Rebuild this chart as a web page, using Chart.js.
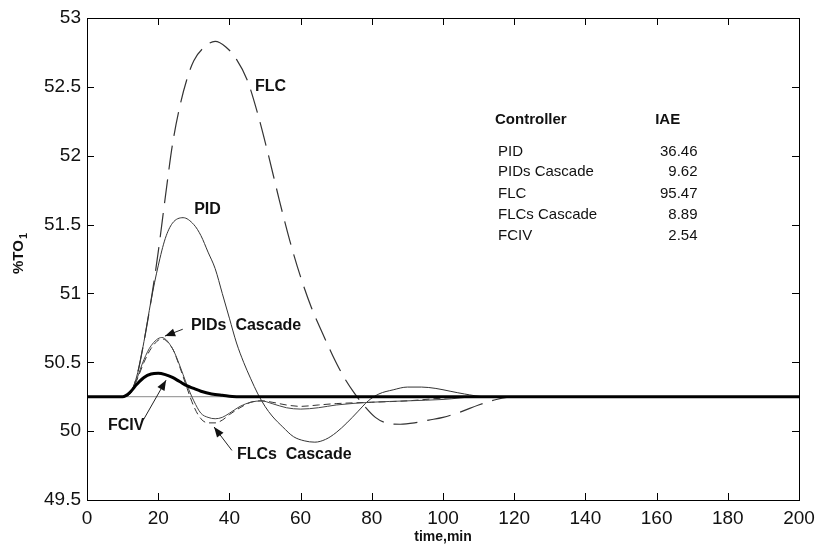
<!DOCTYPE html>
<html lang="en">
<head>
    <meta charset="UTF-8">
    <title>%TO1 response</title>
    <script src="https://cdn.jsdelivr.net/npm/chart.js"></script>
    <style>
        body { margin: 0; background: #fff; }
        #wrap { width: 819px; height: 546px; }
    </style>
</head>
<body>
    <div id="wrap"><canvas id="c" width="819" height="546"></canvas></div>
    <script>
        // time (min) and %TO1 for each controller
        const flcT = [0, 10, 12, 14, 16, 18, 20, 22, 24, 26, 28, 30, 33, 36, 39, 42, 45, 48, 51, 54, 57, 60, 63, 66, 69, 72, 75, 78, 81, 84, 88, 92, 96, 100, 105, 110, 115, 120, 200];
        const flcY = [50.25, 50.25, 50.27, 50.4, 50.65, 50.95, 51.3, 51.7, 52.08, 52.35, 52.55, 52.69, 52.79, 52.83, 52.79, 52.7, 52.55, 52.3, 52.0, 51.68, 51.38, 51.12, 50.9, 50.72, 50.55, 50.4, 50.28, 50.18, 50.1, 50.06, 50.05, 50.06, 50.08, 50.1, 50.14, 50.19, 50.23, 50.25, 50.25];

        const pidT = [0, 10, 12, 14, 16, 18, 20, 22, 24, 27, 30, 32, 34, 36, 38, 40, 42, 44, 46, 48, 50, 52, 55, 58, 61, 64, 67, 70, 73, 76, 79, 82, 86, 90, 94, 98, 102, 106, 112, 200];
        const pidY = [50.25, 50.25, 50.27, 50.4, 50.65, 50.95, 51.2, 51.4, 51.51, 51.55, 51.5, 51.42, 51.3, 51.18, 51.0, 50.82, 50.64, 50.5, 50.38, 50.27, 50.18, 50.11, 50.03, 49.96, 49.93, 49.92, 49.94, 49.99, 50.06, 50.14, 50.22, 50.27, 50.3, 50.32, 50.32, 50.31, 50.29, 50.27, 50.25, 50.25];

        const pidCasT = [0, 10, 12, 14, 16, 18, 21, 24, 26, 28, 30, 32, 34, 36, 38, 40, 43, 46, 49, 52, 56, 60, 65, 70, 80, 90, 100, 110, 200];
        const pidCasY = [50.25, 50.25, 50.27, 50.38, 50.52, 50.62, 50.68, 50.6, 50.48, 50.34, 50.22, 50.13, 50.1, 50.09, 50.1, 50.13, 50.18, 50.21, 50.22, 50.2, 50.17, 50.16, 50.17, 50.19, 50.21, 50.22, 50.23, 50.25, 50.25];

        const flcCasT = [0, 10, 12, 14, 16, 18, 21, 24, 26, 28, 30, 32, 34, 36, 38, 40, 43, 46, 49, 52, 56, 60, 65, 70, 80, 90, 100, 110, 200];
        const flcCasY = [50.25, 50.25, 50.27, 50.37, 50.5, 50.6, 50.67, 50.6, 50.47, 50.32, 50.18, 50.09, 50.06, 50.06, 50.08, 50.12, 50.17, 50.21, 50.22, 50.21, 50.19, 50.18, 50.19, 50.2, 50.21, 50.22, 50.24, 50.25, 50.25];

        const fcivT = [0, 10, 12, 14, 16, 18, 20, 22, 24, 26, 28, 30, 32, 35, 38, 42, 200];
        const fcivY = [50.25, 50.25, 50.28, 50.34, 50.39, 50.415, 50.42, 50.41, 50.39, 50.36, 50.33, 50.31, 50.29, 50.27, 50.26, 50.25, 50.25];

        const setT = [0, 200];
        const setY = [50.25, 50.25];

        const xTicks = [0, 20, 40, 60, 80, 100, 120, 140, 160, 180, 200];
        const yTicks = [49.5, 50, 50.5, 51, 51.5, 52, 52.5, 53];

        // IAE table
        const controllers = ['PID', 'PIDs Cascade', 'FLC', 'FLCs Cascade', 'FCIV'];
        const iae = ['36.46', '9.62', '95.47', '8.89', '2.54'];

        const FONT = "'Liberation Sans', Arial, sans-serif";

        function pts(t, y) {
            return t.map((v, i) => ({ x: v, y: y[i] }));
        }

        // labels and arrows, placed in data coordinates
        const labels = [
            { text: 'FLC', x: 47.2, y: 52.5 },
            { text: 'PID', x: 30.1, y: 51.61 },
            { text: 'PIDs  Cascade', x: 29.2, y: 50.77 },
            { text: 'FCIV', x: 5.9, y: 50.04 },
            { text: 'FLCs  Cascade', x: 42.1, y: 49.83 }
        ];
        const arrows = [
            { from: [26.9, 50.74], to: [21.9, 50.69] },
            { from: [15.8, 50.08], to: [22.2, 50.37] },
            { from: [40.7, 49.86], to: [35.7, 50.03] }
        ];

        const decorations = {
            id: 'decorations',
            afterDraw(chart) {
                const c = chart.ctx;
                const xs = chart.scales.x, ys = chart.scales.y;
                const a = chart.chartArea;
                c.save();
                // box
                c.strokeStyle = '#000';
                c.lineWidth = 1;
                c.strokeRect(a.left + 0.5, a.top + 0.5, a.right - a.left, a.bottom - a.top);
                // inward ticks on all four sides
                c.beginPath();
                xTicks.forEach(v => {
                    const px = Math.round(xs.getPixelForValue(v)) + 0.5;
                    c.moveTo(px, a.bottom); c.lineTo(px, a.bottom - 7);
                    c.moveTo(px, a.top); c.lineTo(px, a.top + 7);
                });
                yTicks.forEach(v => {
                    const py = Math.round(ys.getPixelForValue(v)) + 0.5;
                    c.moveTo(a.left, py); c.lineTo(a.left + 7, py);
                    c.moveTo(a.right, py); c.lineTo(a.right - 7, py);
                });
                c.stroke();

                // curve labels
                c.fillStyle = '#111';
                c.font = 'bold 16px ' + FONT;
                c.textBaseline = 'middle';
                c.textAlign = 'left';
                labels.forEach(l => {
                    c.fillText(l.text, xs.getPixelForValue(l.x), ys.getPixelForValue(l.y));
                });

                // arrows
                c.strokeStyle = '#222';
                c.lineWidth = 1;
                arrows.forEach(ar => {
                    const x1 = xs.getPixelForValue(ar.from[0]), y1 = ys.getPixelForValue(ar.from[1]);
                    const x2 = xs.getPixelForValue(ar.to[0]), y2 = ys.getPixelForValue(ar.to[1]);
                    const ang = Math.atan2(y2 - y1, x2 - x1);
                    c.beginPath();
                    c.moveTo(x1, y1); c.lineTo(x2, y2);
                    c.stroke();
                    c.beginPath();
                    c.moveTo(x2, y2);
                    c.lineTo(x2 - 11 * Math.cos(ang - 0.38), y2 - 11 * Math.sin(ang - 0.38));
                    c.lineTo(x2 - 11 * Math.cos(ang + 0.38), y2 - 11 * Math.sin(ang + 0.38));
                    c.closePath();
                    c.fillStyle = '#111';
                    c.fill();
                });

                // IAE table
                const tx = xs.getPixelForValue(114.6);
                const vx = xs.getPixelForValue(171.5);
                c.fillStyle = '#111';
                c.font = 'bold 15px ' + FONT;
                c.fillText('Controller', tx, ys.getPixelForValue(52.26));
                c.fillText('IAE', xs.getPixelForValue(159.6), ys.getPixelForValue(52.26));
                c.font = '15px ' + FONT;
                const rowY = [52.03, 51.88, 51.72, 51.57, 51.42];
                controllers.forEach((name, i) => {
                    c.textAlign = 'left';
                    c.fillText(name, tx + 3, ys.getPixelForValue(rowY[i]));
                    c.textAlign = 'right';
                    c.fillText(iae[i], vx, ys.getPixelForValue(rowY[i]));
                });

                // y axis title with subscript
                c.save();
                c.translate(19, (a.top + a.bottom) / 2 + 15);
                c.rotate(-Math.PI / 2);
                c.textAlign = 'left';
                c.font = 'bold 15px ' + FONT;
                c.fillText('%TO', 0, 0);
                const w = c.measureText('%TO').width;
                c.font = 'bold 11px ' + FONT;
                c.fillText('1', w + 1, 5);
                c.restore();

                c.restore();
            }
        };

        const ctx = document.getElementById('c').getContext('2d');
        new Chart(ctx, {
            type: 'line',
            data: {
                datasets: [
                    { label: 'Setpoint', data: pts(setT, setY), borderColor: '#8a8a8a', borderWidth: 1, order: 6 },
                    { label: 'FLC', data: pts(flcT, flcY), borderColor: '#333', borderWidth: 1.2, borderDash: [24, 10], order: 5 },
                    { label: 'PID', data: pts(pidT, pidY), borderColor: '#333', borderWidth: 1, order: 4 },
                    { label: 'FLCs Cascade', data: pts(flcCasT, flcCasY), borderColor: '#333', borderWidth: 1, borderDash: [7, 4], order: 3 },
                    { label: 'PIDs Cascade', data: pts(pidCasT, pidCasY), borderColor: '#444', borderWidth: 1, order: 2 },
                    { label: 'FCIV', data: pts(fcivT, fcivY), borderColor: '#000', borderWidth: 3, order: 1 }
                ]
            },
            options: {
                responsive: false,
                animation: false,
                events: [],
                elements: {
                    point: { radius: 0 },
                    line: { tension: 0.4, cubicInterpolationMode: 'monotone', fill: false }
                },
                layout: { padding: { top: 18, right: 20, left: 0, bottom: 0 } },
                plugins: {
                    legend: { display: false },
                    tooltip: { enabled: false },
                    title: { display: false }
                },
                scales: {
                    x: {
                        type: 'linear',
                        min: 0, max: 200,
                        afterBuildTicks: s => { s.ticks = xTicks.map(v => ({ value: v })); },
                        afterFit: s => { s.height = 46; s.paddingLeft = 0; s.paddingRight = 0; },
                        grid: { display: false, drawTicks: false },
                        border: { display: false },
                        ticks: { padding: 7, color: '#111', font: { family: FONT, size: 19 }, maxRotation: 0, callback: v => String(v) },
                        title: { display: true, text: 'time,min', color: '#111', padding: { top: 0, bottom: 0 }, font: { family: FONT, size: 14, weight: 'bold' } }
                    },
                    y: {
                        type: 'linear',
                        min: 49.5, max: 53,
                        afterBuildTicks: s => { s.ticks = yTicks.map(v => ({ value: v })); },
                        afterFit: s => { s.width = 87; s.paddingTop = 0; s.paddingBottom = 0; },
                        grid: { display: false, drawTicks: false },
                        border: { display: false },
                        ticks: { padding: 6, color: '#111', font: { family: FONT, size: 19 }, callback: v => String(v) }
                    }
                }
            },
            plugins: [decorations]
        });
    </script>
</body>
</html>
